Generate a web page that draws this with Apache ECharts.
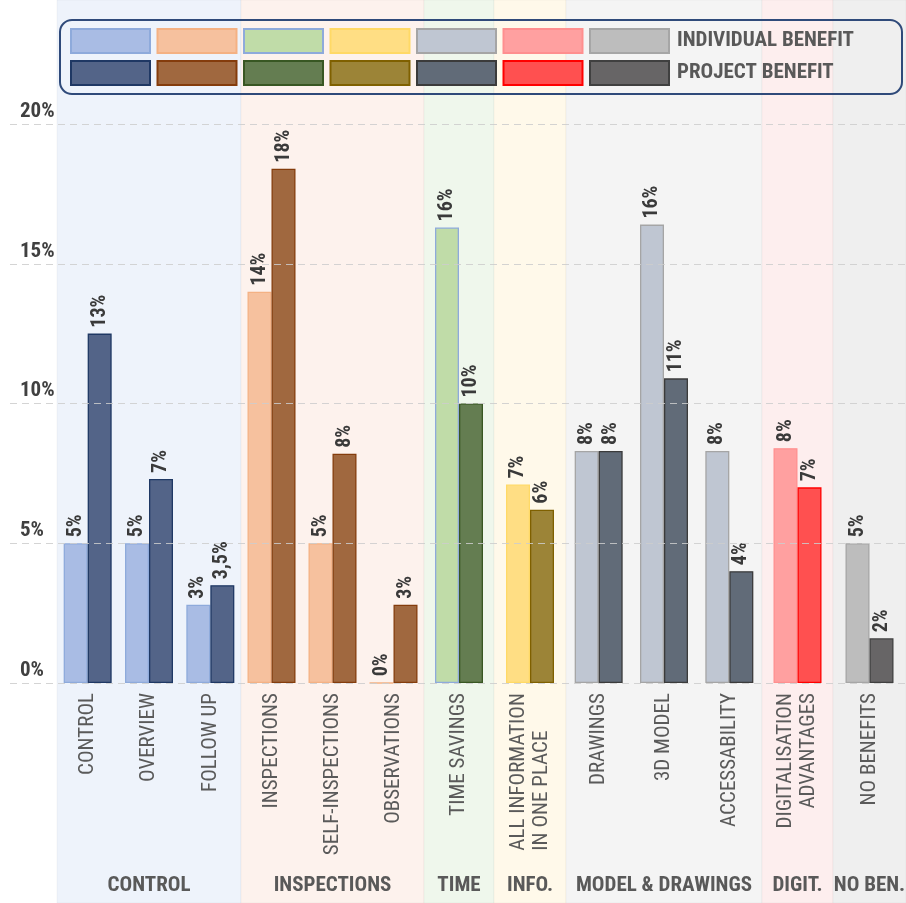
<!DOCTYPE html>
<html>
<head>
<meta charset="utf-8">
<script src="https://cdn.jsdelivr.net/npm/echarts@6/dist/echarts.min.js"></script>
<style>
  html, body { margin: 0; padding: 0; background: #ffffff; }
  #chart { width: 906px; height: 903px; }
</style>
</head>
<body>
<div id="chart"></div>
<script>
// ---- data ----
const categories = [
  'CONTROL', 'OVERVIEW', 'FOLLOW UP',
  'INSPECTIONS', 'SELF-INSPECTIONS', 'OBSERVATIONS',
  'TIME SAVINGS',
  'ALL INFORMATION\nIN ONE PLACE',
  'DRAWINGS', '3D MODEL', 'ACCESSABILITY',
  'DIGITALISATION\nADVANTAGES',
  'NO BENEFITS'
];
const individualBenefit = [5, 5, 2.8, 14, 5, 0, 16.3, 7.1, 8.3, 16.4, 8.3, 8.4, 5];
const projectBenefit    = [12.5, 7.3, 3.5, 18.4, 8.2, 2.8, 10, 6.2, 8.3, 10.9, 4, 7, 1.6];
// decimals shown in each value label
const individualLabelDigits = [0, 0, 0, 0, 0, 0, 0, 0, 0, 0, 0, 0, 0];
const projectLabelDigits    = [0, 0, 1, 0, 0, 0, 0, 0, 0, 0, 0, 0, 0];
const groupNames = ['CONTROL', 'INSPECTIONS', 'TIME', 'INFO.', 'MODEL & DRAWINGS', 'DIGIT.', 'NO BEN.'];
const groupSizes = [3, 3, 1, 1, 3, 1, 1];
const benefitKinds = ['INDIVIDUAL BENEFIT', 'PROJECT BENEFIT'];
const yMin = 0, yMax = 20, yStep = 5;

// ---- layout & style ----
const bandEdges = [57, 241, 424, 494, 566, 762, 833, 906];
const plotTop = 124, plotBottom = 683, chartHeight = 903;
const FONT = "'Roboto Condensed', 'Open Sans Condensed', 'DejaVu Sans Condensed', sans-serif";
const CAT_SIZE = 21;
// multi-line category labels whose lines start flush (instead of ending flush)
const startAlignedLabels = ['ALL INFORMATION\nIN ONE PLACE'];
const palette = [
  { band: '#eef3fb', light: '#a9bce4', lightBorder: '#8eaadb', dark: '#536488', darkBorder: '#1f3864' },
  { band: '#fdf2ed', light: '#f6c19e', lightBorder: '#f4b183', dark: '#a0683f', darkBorder: '#843c0c' },
  { band: '#eff7ec', light: '#c0dca8', lightBorder: '#8eaadb', dark: '#647d51', darkBorder: '#385723' },
  { band: '#fff9ea', light: '#ffde84', lightBorder: '#ffd966', dark: '#9c8437', darkBorder: '#7f6000' },
  { band: '#f4f4f4', light: '#bfc6d2', lightBorder: '#a5a5a5', dark: '#616b78', darkBorder: '#3b3b3b' },
  { band: '#fdeeee', light: '#ffa0a0', lightBorder: '#ff8f8f', dark: '#ff5050', darkBorder: '#ff0000' },
  { band: '#efefef', light: '#bdbdbd', lightBorder: '#a6a6a6', dark: '#676566', darkBorder: '#404040' }
];

const fmt = (v, d) => v.toFixed(d).replace('.', ',') + '%';

// text width helper for the flush-start category label
const measureCtx = document.createElement('canvas').getContext('2d');
function textWidth(str, size, weight) {
  measureCtx.font = (weight || 'normal') + ' ' + size + 'px ' + FONT;
  return measureCtx.measureText(str).width;
}
function catFormatter(value) {
  if (startAlignedLabels.indexOf(value) < 0) return value;
  const lines = value.split('\n');
  return lines.map((ln, i) => (i === 0 ? '{a|' : '{b|') + ln + '}').join('\n');
}
const longestStartAligned = Math.max.apply(null, startAlignedLabels.map(
  s => Math.max.apply(null, s.split('\n').map(l => textWidth(l, CAT_SIZE)))));

// ---- build option ----
const grids = [{
  left: 10, right: 0, top: plotTop, bottom: chartHeight - plotBottom,
  containLabel: false, outerBoundsMode: 'none'
}];
const xAxes = [{ gridIndex: 0, type: 'value', show: false }];
const yAxes = [{
  gridIndex: 0, type: 'value', min: yMin, max: yMax, interval: yStep, z: 5,
  axisLine: { show: false }, axisTick: { show: false },
  axisLabel: {
    inside: true, margin: 10, align: 'left', verticalAlign: 'bottom',
    padding: [0, 0, 2, 0],
    formatter: '{value}%', fontFamily: FONT, fontSize: 21, fontWeight: 'bold', color: '#404040'
  },
  splitLine: { lineStyle: { color: 'rgba(205,205,205,0.85)', type: [7, 5], width: 1 } }
}];
const series = [];
const graphics = [];
const legendNames = [[], []];
const catRich = {
  a: { fontFamily: FONT, fontSize: CAT_SIZE, color: '#5a5a5a', lineHeight: 23 },
  b: { fontFamily: FONT, fontSize: CAT_SIZE, color: '#5a5a5a', lineHeight: 23, align: 'left' }
};

let start = 0;
groupNames.forEach((gName, g) => {
  const n = groupSizes[g];
  const cats = categories.slice(start, start + n);
  const gi = g + 1;
  const left = bandEdges[g], right = bandEdges[g + 1];
  const pal = palette[g];

  graphics.push({
    type: 'rect', z: -10,
    shape: { x: left, y: 0, width: right - left, height: chartHeight },
    style: { fill: pal.band, stroke: 'rgba(0,0,0,0.035)', lineWidth: 1 }
  });

  grids.push({
    left: left, width: right - left, top: plotTop, bottom: chartHeight - plotBottom,
    containLabel: false, outerBoundsMode: 'none'
  });
  xAxes.push({
    gridIndex: gi, type: 'category', data: cats,
    axisLine: { show: false }, axisTick: { show: false },
    axisLabel: {
      interval: 0, rotate: 90, margin: 10, formatter: catFormatter, rich: catRich,
      fontFamily: FONT, fontSize: CAT_SIZE, color: '#5a5a5a', lineHeight: 23
    },
    name: gName, nameLocation: 'middle', nameGap: 192,
    nameTextStyle: { fontFamily: FONT, fontSize: 21, fontWeight: 'bold', color: '#595959' }
  });
  yAxes.push({ gridIndex: gi, type: 'value', min: yMin, max: yMax, show: false });

  const kinds = [
    { values: individualBenefit, digits: individualLabelDigits, fill: pal.light, border: pal.lightBorder },
    { values: projectBenefit, digits: projectLabelDigits, fill: pal.dark, border: pal.darkBorder }
  ];
  kinds.forEach((k, ki) => {
    const name = gName + ' ' + benefitKinds[ki];
    legendNames[ki].push(name);
    const digits = k.digits.slice(start, start + n);
    series.push({
      name: name, type: 'bar', xAxisIndex: gi, yAxisIndex: gi,
      data: k.values.slice(start, start + n),
      barWidth: 24, barGap: '0%',
      itemStyle: { color: k.fill, borderColor: k.border, borderWidth: 1.3 },
      label: {
        show: true, position: 'top', rotate: 90, align: 'left', verticalAlign: 'middle',
        distance: 6, fontFamily: FONT, fontSize: 20, fontWeight: 'bold', color: '#3a3a3a',
        formatter: p => fmt(p.value, digits[p.dataIndex])
      },
      emphasis: { disabled: true }
    });
  });
  start += n;
});
catRich.b.width = longestStartAligned;

// legend frame
graphics.push({
  type: 'rect', z: 50,
  shape: { x: 60, y: 20, width: 842, height: 74, r: 12 },
  style: { fill: 'transparent', stroke: '#2f4a7a', lineWidth: 2 }
});

const legends = legendNames.map((names, ki) => ({
  data: names, orient: 'horizontal', left: 70, top: ki === 0 ? 28 : 60, padding: 0,
  itemWidth: 79, itemHeight: 24, itemGap: 5.5, icon: 'rect', selectedMode: false,
  formatter: nm => nm === names[names.length - 1] ? benefitKinds[ki] : '',
  textStyle: { fontFamily: FONT, fontSize: 21, fontWeight: 'bold', color: '#595959', padding: [0, 0, 0, 3] }
}));

const chart = echarts.init(document.getElementById('chart'), null, { renderer: 'canvas' });
chart.setOption({
  animation: false,
  backgroundColor: '#ffffff',
  grid: grids, xAxis: xAxes, yAxis: yAxes,
  legend: legends,
  graphic: { elements: graphics },
  series: series
});
</script>
</body>
</html>
